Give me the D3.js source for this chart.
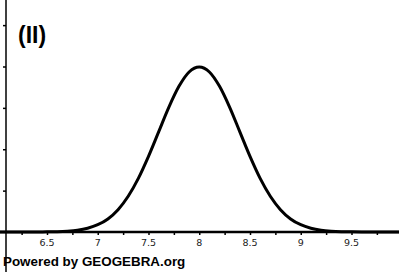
<!DOCTYPE html>
<html>
<head>
<meta charset="utf-8">
<script src="https://cdn.jsdelivr.net/npm/d3@7"></script>
<style>
  html, body { margin: 0; padding: 0; background: #fff; }
  svg { display: block; }
</style>
</head>
<body>
<div id="chart"></div>
<script>
"use strict";

/* curve samples (x value, height) */
const xValues = [6.0, 6.1, 6.2, 6.3, 6.4, 6.5, 6.6, 6.7, 6.8, 6.9,
                 7.0, 7.1, 7.2, 7.3, 7.4, 7.5, 7.6, 7.7, 7.8, 7.9,
                 8.0, 8.1, 8.2, 8.3, 8.4, 8.5, 8.6, 8.7, 8.8, 8.9,
                 9.0, 9.1, 9.2, 9.3, 9.4, 9.5, 9.6, 9.7, 9.8, 9.9, 10.0];
const yValues = [0, 0, 0, 0.0001, 0.0003, 0.001, 0.002, 0.005, 0.011, 0.023,
                 0.044, 0.079, 0.135, 0.216, 0.324, 0.457, 0.605, 0.753, 0.880, 0.967,
                 0.997, 0.967, 0.880, 0.753, 0.605, 0.457, 0.324, 0.216, 0.135, 0.079,
                 0.044, 0.023, 0.011, 0.005, 0.002, 0.001, 0.0003, 0.0001, 0, 0, 0];

/* axis ticks */
const xMinorTicks = [6.25, 6.5, 6.75, 7, 7.25, 7.5, 7.75, 8, 8.25, 8.5, 8.75, 9, 9.25, 9.5, 9.75];
const xTickLabels = ["6.5", "7", "7.5", "8", "8.5", "9", "9.5"];
const yTicks = [0.25, 0.5, 0.75, 1, 1.25];

const title = "(II)";
const credit = "Powered by GEOGEBRA.org";

const width = 399, height = 272;
const axisX = 6;      // pixel column of the vertical axis
const axisY = 232;    // pixel row of the horizontal axis

/* scales */
const xScale = d3.scaleLinear()
  .domain([6.037, 9.968])
  .range([0, width]);

const yScale = d3.scaleLinear()
  .domain([0, 1])
  .range([axisY, 66.5]);

const svg = d3.select("#chart")
  .append("svg")
  .attr("width", width)
  .attr("height", height);

/* horizontal axis with small ticks below it */
const xAxis = d3.axisBottom(xScale)
  .tickValues(xMinorTicks)
  .tickSize(3)
  .tickFormat("");

const gx = svg.append("g")
  .attr("transform", "translate(0," + axisY + ")")
  .call(xAxis);

gx.select(".domain").remove();
gx.selectAll(".tick line")
  .attr("stroke", "#000")
  .attr("stroke-width", 1.5);

svg.append("line")
  .attr("x1", 0).attr("x2", width)
  .attr("y1", axisY).attr("y2", axisY)
  .attr("stroke", "#000")
  .attr("stroke-width", 2.5);

/* tick labels */
svg.selectAll(".xLabel")
  .data(xTickLabels)
  .enter().append("text")
  .attr("class", "xLabel")
  .attr("x", function(d) { return xScale(+d); })
  .attr("y", axisY + 14)
  .attr("text-anchor", "middle")
  .style("font-family", "'DejaVu Sans', sans-serif")
  .style("font-size", "9.5px")
  .style("fill", "#222")
  .text(function(d) { return d; });

/* vertical axis with small ticks to the left */
const yAxis = d3.axisLeft(yScale)
  .tickValues(yTicks)
  .tickSize(3)
  .tickFormat("");

const gy = svg.append("g")
  .attr("transform", "translate(" + axisX + ",0)")
  .call(yAxis);

gy.select(".domain").remove();
gy.selectAll(".tick line")
  .attr("stroke", "#000")
  .attr("stroke-width", 1.5);

svg.append("line")
  .attr("x1", axisX).attr("x2", axisX)
  .attr("y1", 0).attr("y2", height)
  .attr("stroke", "#000")
  .attr("stroke-width", 1.5);

/* the bell curve */
const line = d3.line()
  .x(function(d, i) { return xScale(xValues[i]); })
  .y(function(d) { return yScale(d); })
  .curve(d3.curveMonotoneX);

svg.append("path")
  .datum(yValues)
  .attr("d", line)
  .attr("fill", "none")
  .attr("stroke", "#000")
  .attr("stroke-width", 3);

/* title */
svg.append("text")
  .attr("x", 18)
  .attr("y", 43)
  .style("font-family", "'Liberation Sans', Arial, sans-serif")
  .style("font-weight", "bold")
  .style("font-size", "23px")
  .style("fill", "#000")
  .text(title);

/* credit line */
svg.append("text")
  .attr("x", 3)
  .attr("y", 266)
  .style("font-family", "'Liberation Sans', Arial, sans-serif")
  .style("font-weight", "bold")
  .style("font-size", "13.4px")
  .style("fill", "#000")
  .text(credit);
</script>
</body>
</html>
